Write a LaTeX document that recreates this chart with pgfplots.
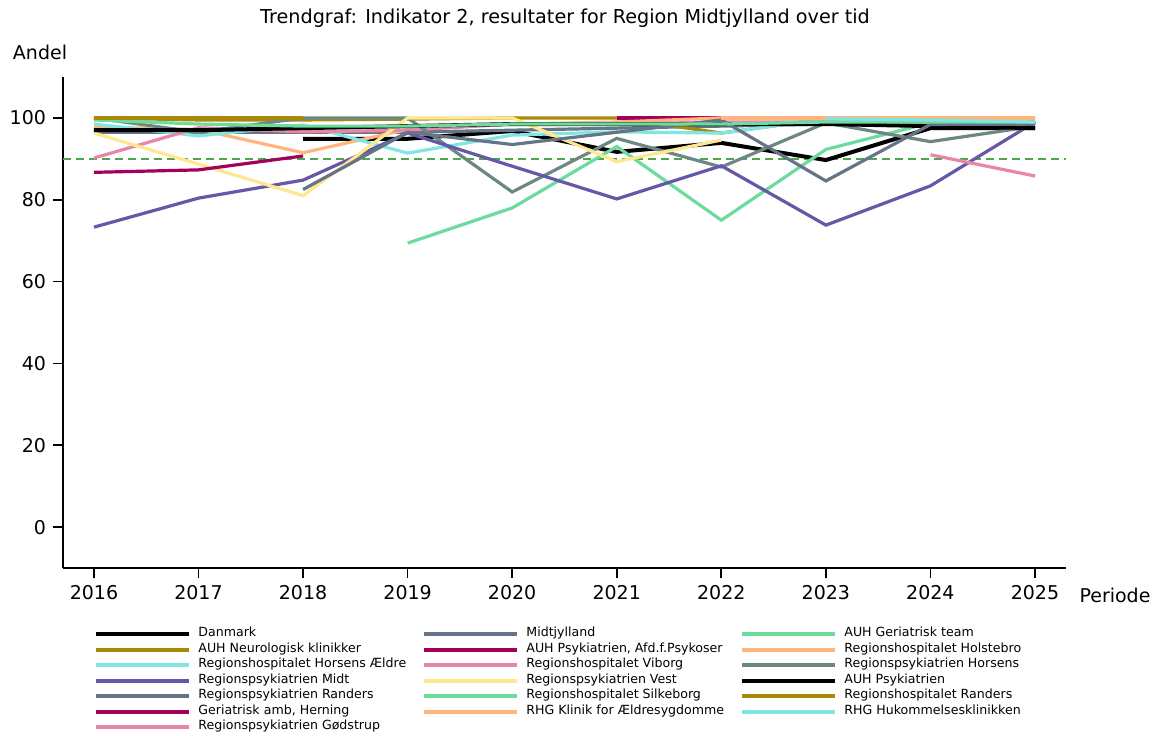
\documentclass[border=0pt]{standalone}
\usepackage{fontspec}
\setmainfont{DejaVu Sans}
\usepackage{pgfplots}
\pgfplotsset{compat=1.18}

\definecolor{cblack}{HTML}{000000}
\definecolor{cslate}{HTML}{657487}
\definecolor{cgreen}{HTML}{6CDB9E}
\definecolor{colive}{HTML}{A8890A}
\definecolor{ccrimson}{HTML}{A3005C}
\definecolor{corange}{HTML}{FFB57C}
\definecolor{ccyan}{HTML}{80E6E3}
\definecolor{cpink}{HTML}{E886A8}
\definecolor{cgreygreen}{HTML}{6D8782}
\definecolor{cpurple}{HTML}{6658A6}
\definecolor{cyellow}{HTML}{FFE790}
\definecolor{ctarget}{HTML}{4DA84D}

% legend column widths
\newcommand{\ca}[1]{\makebox[112pt][l]{#1}}
\newcommand{\cb}[1]{\makebox[107pt][l]{#1}}

\begin{document}
\begin{tikzpicture}
\useasboundingbox (-31.5pt,-83.5pt) rectangle (547.5pt,284pt);
\begin{axis}[
    scale only axis,
    width=501.5pt, height=245.5pt,
    xmin=2015.704, xmax=2025.296,
    ymin=-10, ymax=110,
    axis x line*=bottom, axis y line*=left,
    axis line style={line width=0.8pt},
    xtick={2016,...,2025},
    ytick={0,20,40,60,80,100},
    tick align=outside,
    major tick length=5pt,
    tick style={line width=0.8pt, black},
    tick label style={font=\fontsize{9.5}{11}\selectfont},
    /pgf/number format/assume math mode=true,
    /pgf/number format/1000 sep={},
    clip=false,
    every axis plot/.append style={line width=1.6pt},
    legend columns=3,
    legend cell align=left,
    legend image code/.code={\draw[#1, line width=2pt] (0pt,0pt) -- (46.5pt,0pt);},
    legend style={
        at={(rel axis cs:0.0309,-0.1181)}, anchor=north west,
        draw=none, fill=none, inner sep=0pt,
        font=\fontsize{6.3}{7.5}\selectfont,
        nodes={inner xsep=0pt, inner ysep=0pt, text height=5.2pt, text depth=2.55pt},
        /tikz/every odd column/.append style={column sep=3.5pt},
        /tikz/every even column/.append style={column sep=0pt},
    },
]
% target line
\addplot[ctarget, line width=1pt, dash pattern=on 4pt off 2.5pt, forget plot]
    coordinates {(2015.704,90) (2025.296,90)};

% 1 Danmark
\addplot[cblack, line width=2pt] coordinates {(2018,94.9) (2019,94.9) (2020,96.8) (2021,91.7) (2022,93.9) (2023,89.7) (2024,97.5) (2025,97.5)};
\addlegendentry{\ca{Danmark}}
% 2 Midtjylland
\addplot[cslate] coordinates {(2016,96.5) (2017,96.5) (2018,96.5) (2019,96.5) (2020,97) (2021,97.5) (2022,98) (2023,98.5) (2024,98.5) (2025,98.5)};
\addlegendentry{\cb{Midtjylland}}
% 3 AUH Geriatrisk team
\addplot[cgreen] coordinates {(2019,69.4) (2020,78) (2021,93) (2022,75) (2023,92.3) (2024,98.8) (2025,99)};
\addlegendentry{AUH Geriatrisk team}
% 4 AUH Neurologisk klinikker
\addplot[colive] coordinates {(2016,100) (2017,99.5) (2018,99.5) (2019,99.7) (2020,100) (2021,100) (2022,96.3) (2023,99.8) (2024,100) (2025,100)};
\addlegendentry{\ca{AUH Neurologisk klinikker}}
% 5 AUH Psykiatrien, Afd.f.Psykoser
\addplot[ccrimson] coordinates {(2021,100) (2022,100)};
\addlegendentry{\cb{AUH Psykiatrien, Afd.f.Psykoser}}
% 6 Regionshospitalet Holstebro
\addplot[corange] coordinates {(2016,97.8) (2017,97.2) (2018,91.5) (2019,97.2) (2020,98.5) (2021,99) (2022,100) (2023,100) (2024,100) (2025,100)};
\addlegendentry{Regionshospitalet Holstebro}
% 7 Regionshospitalet Horsens Ældre
\addplot[ccyan] coordinates {(2016,98.5) (2017,95.6) (2018,98.3) (2019,91.4) (2020,95.8) (2021,96.6) (2022,96.3) (2023,99.8) (2024,99.2) (2025,98.8)};
\addlegendentry{\ca{Regionshospitalet Horsens Ældre}}
% 8 Regionshospitalet Viborg
\addplot[cpink] coordinates {(2016,90.2) (2017,97.6) (2018,96.6) (2019,97) (2020,98.5) (2021,98.5) (2022,99) (2023,99) (2024,99) (2025,99)};
\addlegendentry{\cb{Regionshospitalet Viborg}}
% 9 Regionspsykiatrien Horsens
\addplot[cgreygreen] coordinates {(2016,100) (2017,96.5) (2018,100) (2019,100) (2020,81.9) (2021,95) (2022,88) (2023,98.8) (2024,94.2) (2025,98)};
\addlegendentry{Regionspsykiatrien Horsens}
% 10 Regionspsykiatrien Midt
\addplot[cpurple] coordinates {(2016,73.3) (2017,80.4) (2018,84.8) (2019,96.3) (2020,88.2) (2021,80.2) (2022,88.3) (2023,73.8) (2024,83.4) (2025,99)};
\addlegendentry{\ca{Regionspsykiatrien Midt}}
% 11 Regionspsykiatrien Vest
\addplot[cyellow] coordinates {(2016,96.3) (2017,88.7) (2018,81) (2019,100) (2020,100) (2021,89.3) (2022,94.6)};
\addlegendentry{\cb{Regionspsykiatrien Vest}}
% 12 AUH Psykiatrien
\addplot[cblack, line width=2pt] coordinates {(2016,97) (2017,97) (2018,97.5) (2019,98) (2020,98.5) (2021,98.5) (2022,98.5) (2023,98.5) (2024,98) (2025,97.5)};
\addlegendentry{AUH Psykiatrien}
% 13 Regionspsykiatrien Randers
\addplot[cslate] coordinates {(2018,82.5) (2019,96.5) (2020,93.5) (2021,96.5) (2022,99.5) (2023,84.6) (2024,98.4) (2025,98.5)};
\addlegendentry{\ca{Regionspsykiatrien Randers}}
% 14 Regionshospitalet Silkeborg
\addplot[cgreen] coordinates {(2016,99.5) (2017,98.5) (2018,98) (2019,98) (2020,98.5) (2021,98.5) (2022,98.5) (2023,99) (2024,99) (2025,99)};
\addlegendentry{\cb{Regionshospitalet Silkeborg}}
% 15 Regionshospitalet Randers
\addplot[colive] coordinates {(2016,100) (2017,100) (2018,100)};
\addlegendentry{Regionshospitalet Randers}
% 16 Geriatrisk amb, Herning
\addplot[ccrimson] coordinates {(2016,86.7) (2017,87.3) (2018,90.7)};
\addlegendentry{\ca{Geriatrisk amb, Herning}}
% 17 RHG Klinik for Ældresygdomme
\addplot[corange] coordinates {(2022,100) (2023,100) (2024,100) (2025,100)};
\addlegendentry{\cb{RHG Klinik for Ældresygdomme}}
% 18 RHG Hukommelsesklinikken
\addplot[ccyan] coordinates {(2023,99.8) (2024,99.5) (2025,99)};
\addlegendentry{RHG Hukommelsesklinikken}
% 19 Regionspsykiatrien Gødstrup
\addplot[cpink] coordinates {(2024,91) (2025,85.8)};
\addlegendentry{\ca{Regionspsykiatrien Gødstrup}}
\end{axis}
\node[font=\fontsize{9.6}{11}\selectfont] at (251pt,275pt) {Trendgraf: Indikator 2, resultater for Region Midtjylland over tid};
\node[font=\fontsize{9.5}{11}\selectfont] at (-11.5pt,258pt) {Andel};
\node[font=\fontsize{9.5}{11}\selectfont] at (526pt,-13.5pt) {Periode};
\end{tikzpicture}
\end{document}
